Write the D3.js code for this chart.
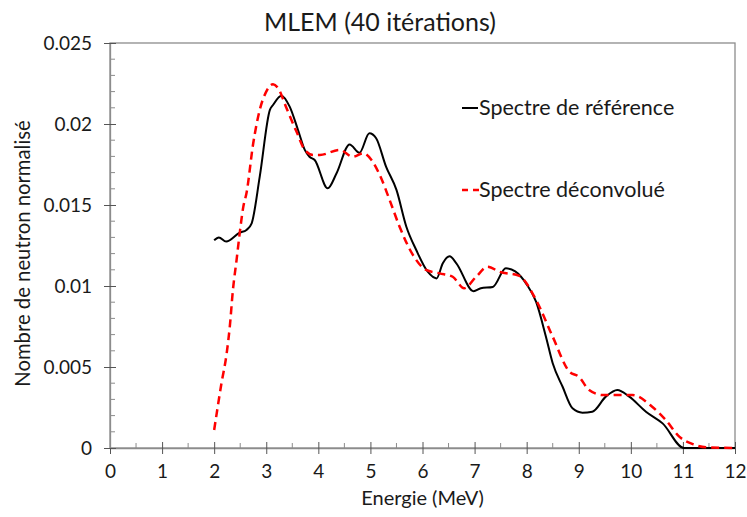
<!DOCTYPE html>
<html>
<head>
<meta charset="utf-8">
<script src="https://cdn.jsdelivr.net/npm/d3@7"></script>
<style>
  html, body { margin: 0; padding: 0; background: #fff; }
  svg { display: block; font-family: Lato, "Open Sans", sans-serif; }
</style>
</head>
<body>
<svg id="chart" width="747" height="517"></svg>
<script>
// Reference spectrum (solid black)
const energyRef = [2.00, 2.09, 2.23, 2.49, 2.62, 2.72, 2.875, 3.07, 3.13, 3.29, 3.45, 3.61, 3.74, 3.83, 3.93,
  4.18, 4.35, 4.60, 4.79, 4.98, 5.11, 5.30, 5.50, 5.69, 5.88, 6.10, 6.27, 6.39, 6.52, 6.65, 6.98, 7.12,
  7.35, 7.60, 7.78, 8.00, 8.18, 8.37, 8.50, 8.69, 8.88, 9.07, 9.26, 9.52, 9.74, 9.97, 10.29, 10.61, 11.02,
  11.5, 12.0];
const fluxRef = [0.01282, 0.01300, 0.01274, 0.01329, 0.01346, 0.01387, 0.01675, 0.02087, 0.02117, 0.02175,
  0.02107, 0.01963, 0.01840, 0.01798, 0.01778, 0.01603, 0.01696, 0.01874, 0.01823, 0.01943, 0.01912,
  0.01737, 0.01593, 0.01366, 0.01222, 0.01088, 0.01047, 0.01140, 0.01183, 0.01140, 0.00968, 0.00986,
  0.00994, 0.01109, 0.01090, 0.01010, 0.00903, 0.00687, 0.00523, 0.00378, 0.00245, 0.00218, 0.00224,
  0.00317, 0.00358, 0.00317, 0.00224, 0.00152, 0.0, 0.0, 0.0];

// Deconvolved spectrum, MLEM after 40 iterations (dashed red)
const energyDec = [2.00, 2.14, 2.24, 2.30, 2.36, 2.43, 2.49, 2.56, 2.62, 2.75, 2.875, 3.00, 3.13, 3.23, 3.39,
  3.58, 3.74, 3.90, 4.03, 4.41, 4.66, 4.86, 5.02, 5.18, 5.37, 5.56, 5.81, 6.07, 6.33, 6.58, 6.80, 7.03,
  7.25, 7.48, 7.86, 8.18, 8.50, 8.82, 9.00, 9.20, 9.46, 9.71, 10.03, 10.41, 10.67, 10.93, 11.18, 11.44, 12.0];
const fluxDec = [0.00111, 0.00399, 0.00584, 0.00749, 0.00975, 0.01160, 0.01325, 0.01490, 0.01572, 0.01881,
  0.02087, 0.02200, 0.02245, 0.02220, 0.02097, 0.01953, 0.01840, 0.01809, 0.01809, 0.01840, 0.01798,
  0.01819, 0.01778, 0.01685, 0.01530, 0.01366, 0.01195, 0.01099, 0.01078, 0.01057, 0.00986, 0.01057,
  0.01119, 0.01088, 0.01062, 0.00914, 0.00687, 0.00471, 0.00440, 0.00358, 0.00327, 0.00327, 0.00327,
  0.00255, 0.00173, 0.00070, 0.00025, 0.00004, 0.0];

const xTicks = [0, 1, 2, 3, 4, 5, 6, 7, 8, 9, 10, 11, 12];
const yTicks = [0, 0.005, 0.01, 0.015, 0.02, 0.025];
const yTickLabels = ["0", "0.005", "0.01", "0.015", "0.02", "0.025"];
const seriesNames = ["Spectre de référence", "Spectre déconvolué"];

const svg = d3.select("#chart");
const plot = { left: 110, right: 735, top: 43, bottom: 448 };

const x = d3.scaleLinear().domain([0, 12]).range([plot.left, plot.right]);
const y = d3.scaleLinear().domain([0, 0.025]).range([plot.bottom, plot.top]);

const axisColor = "#8c8c8c";
const textColor = "#1a1a1a";

// Plot frame
svg.append("rect")
  .attr("x", plot.left).attr("y", plot.top)
  .attr("width", plot.right - plot.left).attr("height", plot.bottom - plot.top)
  .attr("fill", "none").attr("stroke", axisColor).attr("stroke-width", 1.3);

// Minor ticks (inside the plot)
const xMinor = d3.range(0.5, 12, 1);
svg.append("g").selectAll("line").data(xMinor).join("line")
  .attr("x1", d => x(d)).attr("x2", d => x(d))
  .attr("y1", plot.bottom).attr("y2", plot.bottom - 5)
  .attr("stroke", axisColor).attr("stroke-width", 1);
const yMinor = d3.range(0.001, 0.025, 0.001).filter(v => Math.abs(v / 0.005 - Math.round(v / 0.005)) > 1e-6);
svg.append("g").selectAll("line").data(yMinor).join("line")
  .attr("x1", plot.left).attr("x2", plot.left + 5)
  .attr("y1", d => y(d)).attr("y2", d => y(d))
  .attr("stroke", axisColor).attr("stroke-width", 1);

// X axis (major ticks cross the axis line)
const xAxis = svg.append("g").attr("transform", `translate(0,${plot.bottom})`)
  .call(d3.axisBottom(x).tickValues(xTicks).tickFormat(d3.format("d")).tickSizeInner(6).tickSizeOuter(0));
xAxis.select(".domain").attr("stroke", axisColor).attr("stroke-width", 1.3);
xAxis.selectAll(".tick line").attr("stroke", "#555").attr("y1", -6);
xAxis.selectAll(".tick text").attr("fill", textColor).attr("font-size", 19)
  .attr("font-family", "Lato, sans-serif").attr("y", 12).attr("dy", "0.95em");

// Y axis
const yAxis = svg.append("g").attr("transform", `translate(${plot.left},0)`)
  .call(d3.axisLeft(y).tickValues(yTicks).tickFormat((d, i) => yTickLabels[i]).tickSizeInner(6).tickSizeOuter(0));
yAxis.select(".domain").attr("stroke", axisColor).attr("stroke-width", 1.3);
yAxis.selectAll(".tick line").attr("stroke", "#555").attr("x2", 6).attr("x1", -6);
yAxis.selectAll(".tick text").attr("fill", textColor).attr("font-size", 19)
  .attr("font-family", "Lato, sans-serif").attr("x", -18);

// Curves
const line = d3.line().curve(d3.curveMonotoneX);

svg.append("path")
  .attr("d", line(energyRef.map((e, i) => [x(e), y(fluxRef[i])])))
  .attr("fill", "none").attr("stroke", "#000").attr("stroke-width", 2);

svg.append("path")
  .attr("d", line(energyDec.map((e, i) => [x(e), y(fluxDec[i])])))
  .attr("fill", "none").attr("stroke", "#ff0000").attr("stroke-width", 2.5)
  .attr("stroke-dasharray", "8,5");

// Title
svg.append("text").attr("x", 380).attr("y", 31).attr("text-anchor", "middle")
  .attr("font-size", 25).attr("fill", textColor).text("MLEM (40 itérations)");

// Axis titles
svg.append("text").attr("x", x(6)).attr("y", 505).attr("text-anchor", "middle")
  .attr("font-size", 20).attr("fill", textColor).text("Energie (MeV)");
svg.append("text").attr("transform", `translate(30,${(plot.top + plot.bottom) / 2 + 8}) rotate(-90)`)
  .attr("text-anchor", "middle").attr("font-size", 20.3).attr("fill", textColor)
  .text("Nombre de neutron normalisé");

// Legend
const legend = svg.append("g");
const legendY = [108, 190];
legend.append("line").attr("x1", 462).attr("x2", 478).attr("y1", legendY[0]).attr("y2", legendY[0])
  .attr("stroke", "#000").attr("stroke-width", 2);
legend.append("line").attr("x1", 462).attr("x2", 479).attr("y1", legendY[1]).attr("y2", legendY[1])
  .attr("stroke", "#ff0000").attr("stroke-width", 2.5).attr("stroke-dasharray", "6,5");
legend.selectAll("text").data(seriesNames).join("text")
  .attr("x", 479).attr("y", (d, i) => legendY[i] + 7)
  .attr("font-size", 21.5).attr("fill", textColor).text(d => d);
</script>
</body>
</html>
